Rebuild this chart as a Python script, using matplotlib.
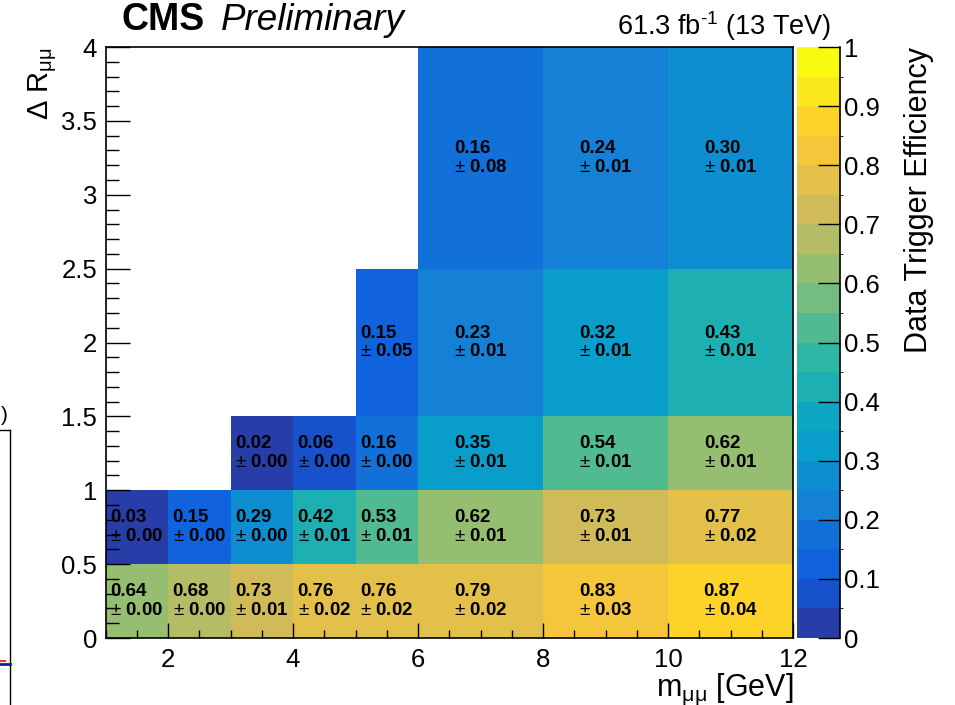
import numpy as np
import matplotlib
matplotlib.use("Agg")
import matplotlib.pyplot as plt
from matplotlib.colors import LinearSegmentedColormap, ListedColormap, BoundaryNorm
from matplotlib.lines import Line2D

plt.rcParams["font.family"] = ["Liberation Sans", "DejaVu Sans"]
plt.rcParams["mathtext.fontset"] = "custom"
plt.rcParams["mathtext.rm"] = "Liberation Sans"
plt.rcParams["mathtext.it"] = "Liberation Sans:italic"

# ── Data ─────────────────────────────────────────────────────────────────────
mass_edges = [1, 2, 3, 4, 5, 6, 8, 10, 12]
dr_edges   = [0, 0.5, 1, 1.5, 2.5, 4]
nan = np.nan

# rows go from low ΔR to high ΔR
eff = np.array([
    [0.64, 0.68, 0.73, 0.76, 0.76, 0.79, 0.83, 0.87],
    [0.03, 0.15, 0.29, 0.42, 0.53, 0.62, 0.73, 0.77],
    [nan,  nan,  0.02, 0.06, 0.16, 0.35, 0.54, 0.62],
    [nan,  nan,  nan,  nan,  0.15, 0.23, 0.32, 0.43],
    [nan,  nan,  nan,  nan,  nan,  0.16, 0.24, 0.298],
])
err = np.array([
    [0.00, 0.00, 0.01, 0.02, 0.02, 0.02, 0.03, 0.04],
    [0.00, 0.00, 0.00, 0.01, 0.01, 0.01, 0.01, 0.02],
    [nan,  nan,  0.00, 0.00, 0.00, 0.01, 0.01, 0.01],
    [nan,  nan,  nan,  nan,  0.05, 0.01, 0.01, 0.01],
    [nan,  nan,  nan,  nan,  nan,  0.08, 0.01, 0.01],
])

# ── ROOT kBird palette, 20 contours ──────────────────────────────────────────
stops = [0.0, 0.125, 0.25, 0.375, 0.5, 0.625, 0.75, 0.875, 1.0]
red   = [0.2082, 0.0592, 0.0780, 0.0232, 0.1802, 0.5301, 0.8186, 0.9956, 0.9764]
green = [0.1664, 0.3599, 0.5041, 0.6419, 0.7178, 0.7492, 0.7328, 0.7862, 0.9832]
blue  = [0.5293, 0.8684, 0.8385, 0.7914, 0.6425, 0.4662, 0.3499, 0.1968, 0.0539]
bird = LinearSegmentedColormap.from_list(
    "bird", list(zip(stops, zip(red, green, blue))), N=255)
ncont = 20
cmap = ListedColormap([bird(int((i + 0.99) * 255 / ncont) / 254.0) for i in range(ncont)])
cmap.set_bad("white")
levels = np.linspace(0, 1, ncont + 1)
norm = BoundaryNorm(levels, ncont)

# ── Figure ───────────────────────────────────────────────────────────────────
fig = plt.figure(figsize=(9.55, 7.05), dpi=100)
ax  = fig.add_axes([0.1105, 0.095, 0.7199, 0.8383])
cax = fig.add_axes([0.8346, 0.095, 0.0450, 0.8383])

mesh = ax.pcolormesh(mass_edges, dr_edges, np.ma.masked_invalid(eff),
                     cmap=cmap, norm=norm)

xc = 0.5 * (np.array(mass_edges[:-1]) + np.array(mass_edges[1:]))
yc = 0.5 * (np.array(dr_edges[:-1]) + np.array(dr_edges[1:]))
for j in range(eff.shape[0]):
    for i in range(eff.shape[1]):
        if np.isnan(eff[j, i]):
            continue
        ax.text(xc[i], yc[j], f"{eff[j, i]:.2f}\n$\\pm$ {err[j, i]:.2f}",
                ha="center", va="center", multialignment="left",
                fontsize=13.5, fontweight="bold", linespacing=1.15)

ax.set_xlim(1, 12)
ax.set_ylim(0, 4)
ax.set_xticks([2, 4, 6, 8, 10, 12])
ax.set_xticks(np.arange(1, 12.01, 0.5), minor=True)
ax.set_yticks(np.arange(0, 4.01, 0.5))
ax.set_yticks(np.arange(0, 4.01, 0.1), minor=True)
ax.set_yticklabels(["0", "0.5", "1", "1.5", "2", "2.5", "3", "3.5", "4"])
ax.tick_params(axis="both", which="both", direction="in", labelsize=18.5,
               top=False, right=False, width=1)
ax.tick_params(axis="x", which="major", length=11, pad=7)
ax.tick_params(axis="x", which="minor", length=6)
ax.tick_params(axis="y", which="major", length=17, pad=6)
ax.tick_params(axis="y", which="minor", length=9)
for s in ax.spines.values():
    s.set_linewidth(1.2)

ax.set_xlabel("m$_{\\mathrm{μμ}}$ [GeV]", fontsize=22, loc="right", labelpad=0)
ax.set_ylabel("Δ R$_{\\mathrm{μμ}}$", fontsize=21, loc="top", labelpad=2)

# ── Colour bar ───────────────────────────────────────────────────────────────
cb = fig.colorbar(mesh, cax=cax, ticks=np.arange(0, 1.01, 0.1))
cb.outline.set_visible(False)
cb.ax.set_yticklabels(["0", "0.1", "0.2", "0.3", "0.4", "0.5",
                       "0.6", "0.7", "0.8", "0.9", "1"])
cax.tick_params(direction="in", length=16, width=1, labelsize=18.5, pad=3)
cax.plot([1, 1], [0, 1], transform=cax.transAxes, color="black",
         lw=1.2, clip_on=False)
cb.set_label("Data Trigger Efficiency", fontsize=22, loc="top", labelpad=17)

# ── Labels ───────────────────────────────────────────────────────────────────
fig.text(0.127, 0.971, "CMS", fontsize=27, fontweight="bold", va="center")
fig.text(0.231, 0.971, "Preliminary", fontsize=26.5, style="italic", va="center")
fig.text(0.870, 0.963, "61.3 fb$^{‐1}$ (13 TeV)", fontsize=19.5,
         ha="right", va="center")

# neighbouring plot peeking in at the left edge
fig.add_artist(Line2D([0, 0.0105], [0.390, 0.390], color="black", lw=1))
fig.add_artist(Line2D([0.0105, 0.0105], [0.0, 0.390], color="black", lw=1))
fig.add_artist(Line2D([0, 0.009], [0.0625, 0.0625], color="red", lw=1.2, ls="--"))
fig.add_artist(Line2D([0, 0.0105], [0.0585, 0.0585], color="#1a1aa0", lw=2))
fig.text(0.001, 0.410, ")", fontsize=15, ha="left", va="center")

fig.savefig("out.png", dpi=100)
